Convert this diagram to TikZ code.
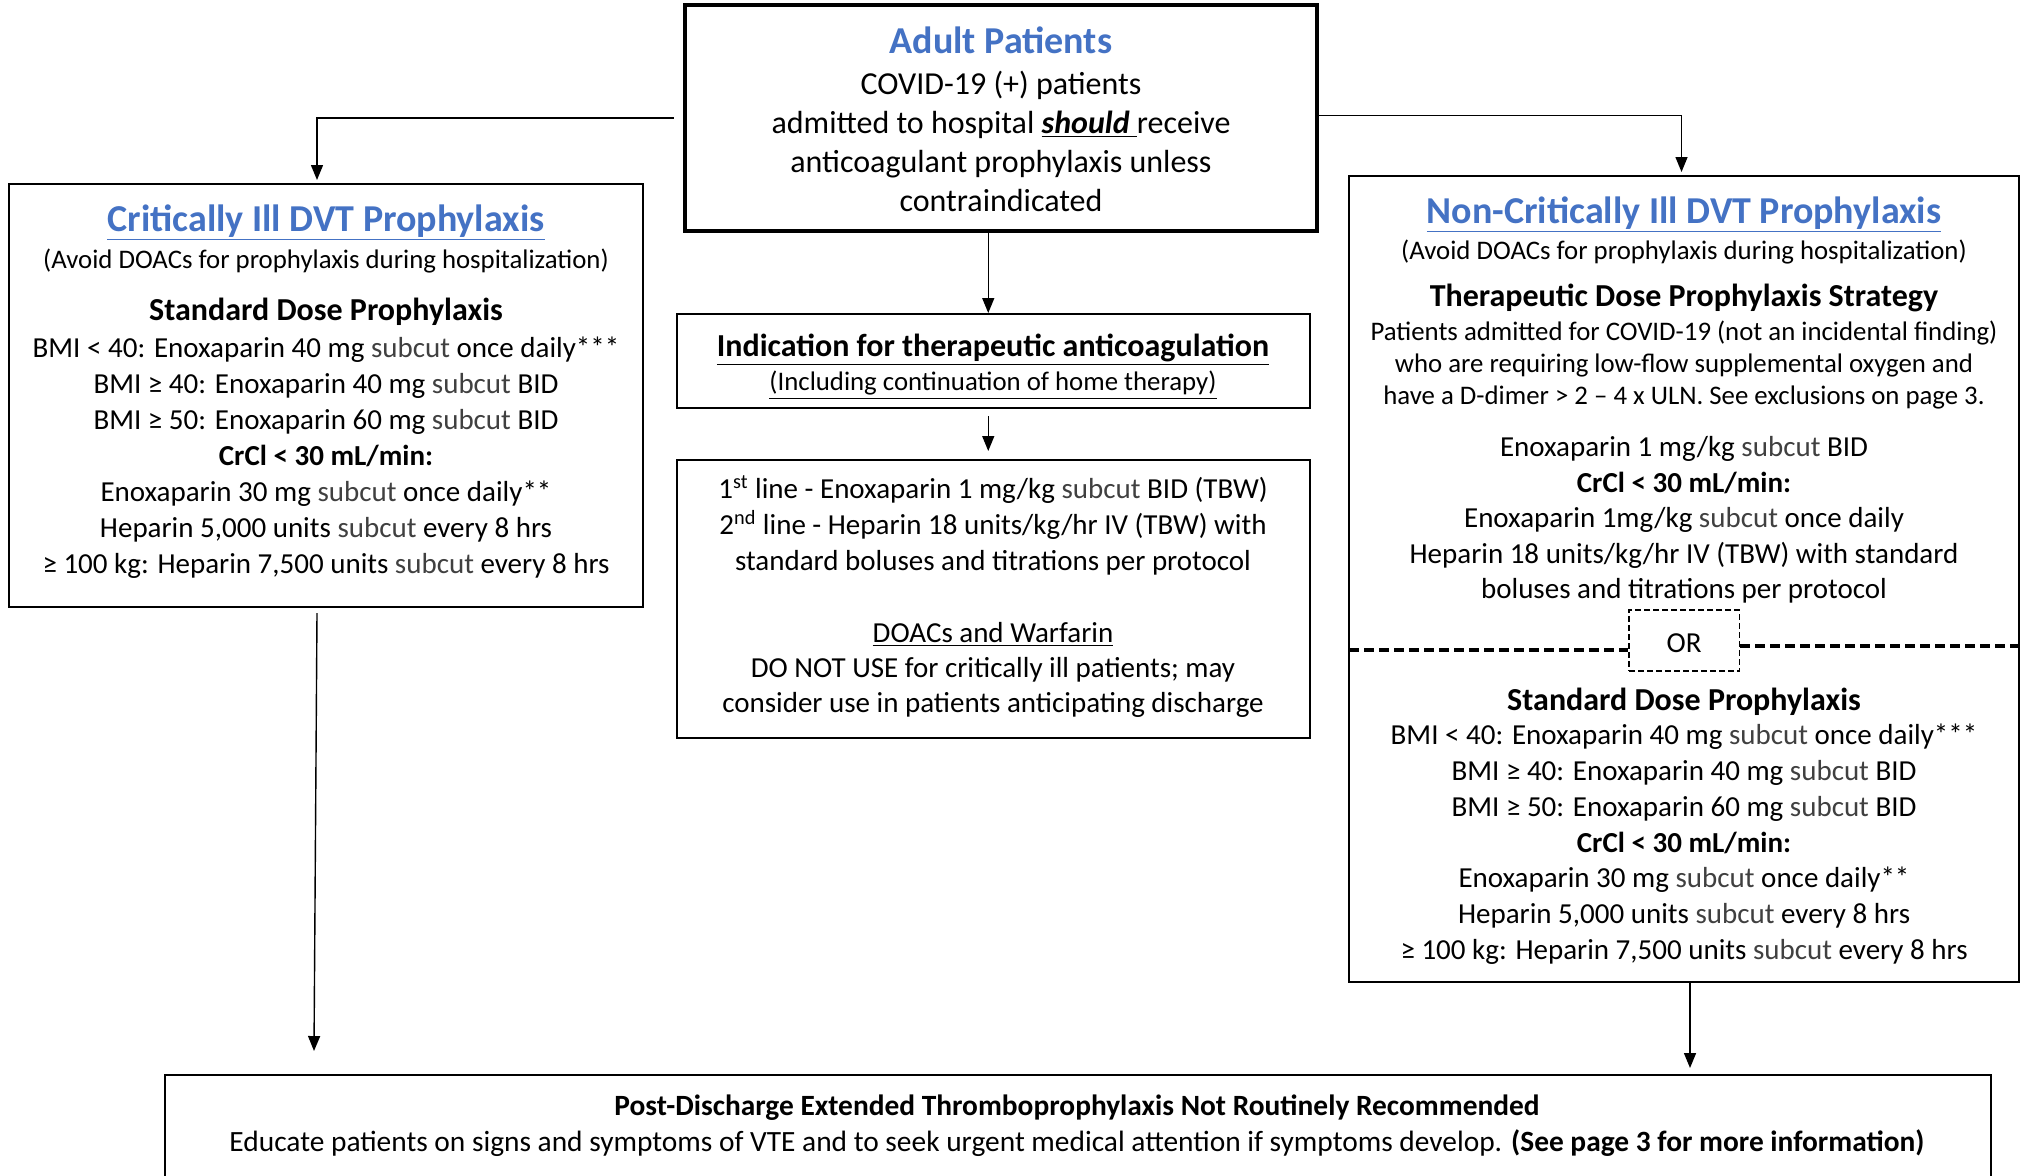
\documentclass[tikz,border=0pt]{standalone}
\usepackage{fontspec}
\setmainfont{Carlito}
\usetikzlibrary{arrows.meta}
\definecolor{tblue}{HTML}{4472C4}
\definecolor{subg}{HTML}{404040}
\newcommand{\sbc}{\textcolor{subg}{subcut}}
\begin{document}
\begin{tikzpicture}[x=0.5pt,y=-0.5pt,
  box/.style={draw, line width=1pt, inner sep=0pt, rectangle},
  txt/.style={align=center, anchor=base, inner sep=0pt, font=\fontsize{14.5}{18}\selectfont},
  ttl/.style={txt, font=\fontsize{19}{22}\selectfont\bfseries, text=tblue},
  hdr/.style={txt, font=\fontsize{16}{19}\selectfont\bfseries},
  sml/.style={txt, font=\fontsize{13.4}{16.1}\selectfont},
  arr/.style={-{Triangle[length=7.5pt,width=6pt]}, line width=0.7pt},
  dashline/.style={line width=1.8pt, dash pattern=on 5pt off 2.5pt},
]
\path[use as bounding box] (0,0) rectangle (2022,1175);
\clip (0,0) rectangle (2022,1175);
\fill[white] (0,0) rectangle (2022,1175);

% boxes
\node[box, line width=2.4pt, minimum width=316pt, minimum height=113pt] (adult) at (1001,118) {};
\node[box, minimum width=317pt, minimum height=211.5pt] (crit) at (326,395.5) {};
\node[box, minimum width=316.25pt, minimum height=47pt] (ind) at (993.25,361) {};
\node[box, minimum width=316.25pt, minimum height=138.75pt] (first) at (993.25,598.75) {};
\node[box, minimum width=335pt, minimum height=402.75pt] (noncrit) at (1684,578.75) {};
\node[box, minimum width=913pt, minimum height=62.5pt] (bot) at (1078,1137.5) {};
\node[box, dashed, line width=0.8pt, dash pattern=on 3pt off 1.5pt, minimum width=55.25pt, minimum height=30.5pt] (orb) at (1684.25,640.5) {};

% adult
\node[ttl] (aTitle) at (1001,53.5) {Adult Patients};
\node[txt, font=\fontsize{16}{19.4}\selectfont] (aBody) at (1001,211) {COVID-19 (+) patients\\ admitted to hospital \underline{\textbf{\textit{should}}\ }receive\\ anticoagulant prophylaxis unless\\ contraindicated};

% critically ill
\node[ttl] (cTitle) at (326,231) {\underline{Critically Ill DVT Prophylaxis}};
\node[sml] (cAvoid) at (326,268) {(Avoid DOACs for prophylaxis during hospitalization)};
\node[hdr] (cStd) at (326,320.5) {Standard Dose Prophylaxis};
\node[txt] (cBody) at (326,573) {BMI < 40: Enoxaparin 40 mg \sbc{} once daily***\\ BMI ≥ 40: Enoxaparin 40 mg \sbc{} BID\\ BMI ≥ 50: Enoxaparin 60 mg \sbc{} BID\\ \textbf{CrCl < 30 mL/min:}\\ Enoxaparin 30 mg \sbc{} once daily**\\ Heparin 5,000 units \sbc{} every 8 hrs\\ ≥ 100 kg: Heparin 7,500 units \sbc{} every 8 hrs};

% indication
\node[hdr] (iTitle) at (993,356.5) {\underline{Indication for therapeutic anticoagulation}};
\node[sml] (iSub) at (993,390.5) {\underline{(Including continuation of home therapy)}};

% first line box
\node[txt] (fBody) at (993,570.5) {1\textsuperscript{st} line - Enoxaparin 1 mg/kg \sbc{} BID (TBW)\\ 2\textsuperscript{nd} line - Heparin 18 units/kg/hr IV (TBW) with\\ standard boluses and titrations per protocol};
\node[txt, font=\fontsize{14.5}{17.5}\selectfont] (fDoac) at (993,712.5) {\underline{DOACs and Warfarin}\\ DO NOT USE for critically ill patients; may\\ consider use in patients anticipating discharge};

% non-critically ill
\node[ttl] (nTitle) at (1684,223) {\underline{Non-Critically Ill DVT Prophylaxis}};
\node[sml] (nAvoid) at (1684,259) {(Avoid DOACs for prophylaxis during hospitalization)};
\node[hdr] (nTher) at (1684,306.5) {Therapeutic Dose Prophylaxis Strategy};
\node[sml] (nPat) at (1684,404.5) {Patients admitted for COVID-19 (not an incidental finding)\\ who are requiring low-flow supplemental oxygen and\\ have a D-dimer > 2 – 4 x ULN. See exclusions on page 3.};
\node[txt, font=\fontsize{14.5}{17.75}\selectfont] (nBody1) at (1684,598.5) {Enoxaparin 1 mg/kg \sbc{} BID\\ \textbf{CrCl < 30 mL/min:}\\ Enoxaparin 1mg/kg \sbc{} once daily\\ Heparin 18 units/kg/hr IV (TBW) with standard\\ boluses and titrations per protocol};
\node[txt] (orT) at (1684,652) {OR};
\node[hdr] (nStd) at (1684,710) {Standard Dose Prophylaxis};
\node[txt, font=\fontsize{14.5}{17.9}\selectfont] (nBody2) at (1684,959.5) {BMI < 40: Enoxaparin 40 mg \sbc{} once daily***\\ BMI ≥ 40: Enoxaparin 40 mg \sbc{} BID\\ BMI ≥ 50: Enoxaparin 60 mg \sbc{} BID\\ \textbf{CrCl < 30 mL/min:}\\ Enoxaparin 30 mg \sbc{} once daily**\\ Heparin 5,000 units \sbc{} every 8 hrs\\ ≥ 100 kg: Heparin 7,500 units \sbc{} every 8 hrs};

% bottom
\node[txt, font=\fontsize{14.7}{18}\selectfont] (bBody) at (1077,1151) {\textbf{Post-Discharge Extended Thromboprophylaxis Not Routinely Recommended}\\ Educate patients on signs and symptoms of VTE and to seek urgent medical attention if symptoms develop. \textbf{(See page 3 for more information)}};

% dashed separators
\coordinate (dL) at (1349,650);
\coordinate (dR) at (2019,646);
\draw[dashline] (dL) -- (orb.west |- dL);
\draw[dashline] (orb.east |- dR) -- (dR);

% connectors
\coordinate (ind1) at ([xshift=-2.5pt]ind.north);
\coordinate (cEnd) at (314,1051);
\coordinate (nEnd) at (1690,1068);
\draw[arr] ([xshift=-4.5pt]adult.west) -| ([xshift=-4.5pt,yshift=1.5pt]crit.north);
\draw[arr] ([yshift=1.25pt]adult.east) -| ([xshift=-1.25pt,yshift=1.5pt]noncrit.north);
\draw[arr] (adult.south -| ind1) -- (ind1);
\draw[arr] ([xshift=-2.5pt,yshift=-3.5pt]ind.south) -- ([xshift=-2.5pt,yshift=4pt]first.north);
\draw[arr] ([xshift=-4.5pt,yshift=-2.5pt]crit.south) -- (cEnd);
\draw[arr] (noncrit.south -| nEnd) -- (nEnd);
\end{tikzpicture}
\end{document}
